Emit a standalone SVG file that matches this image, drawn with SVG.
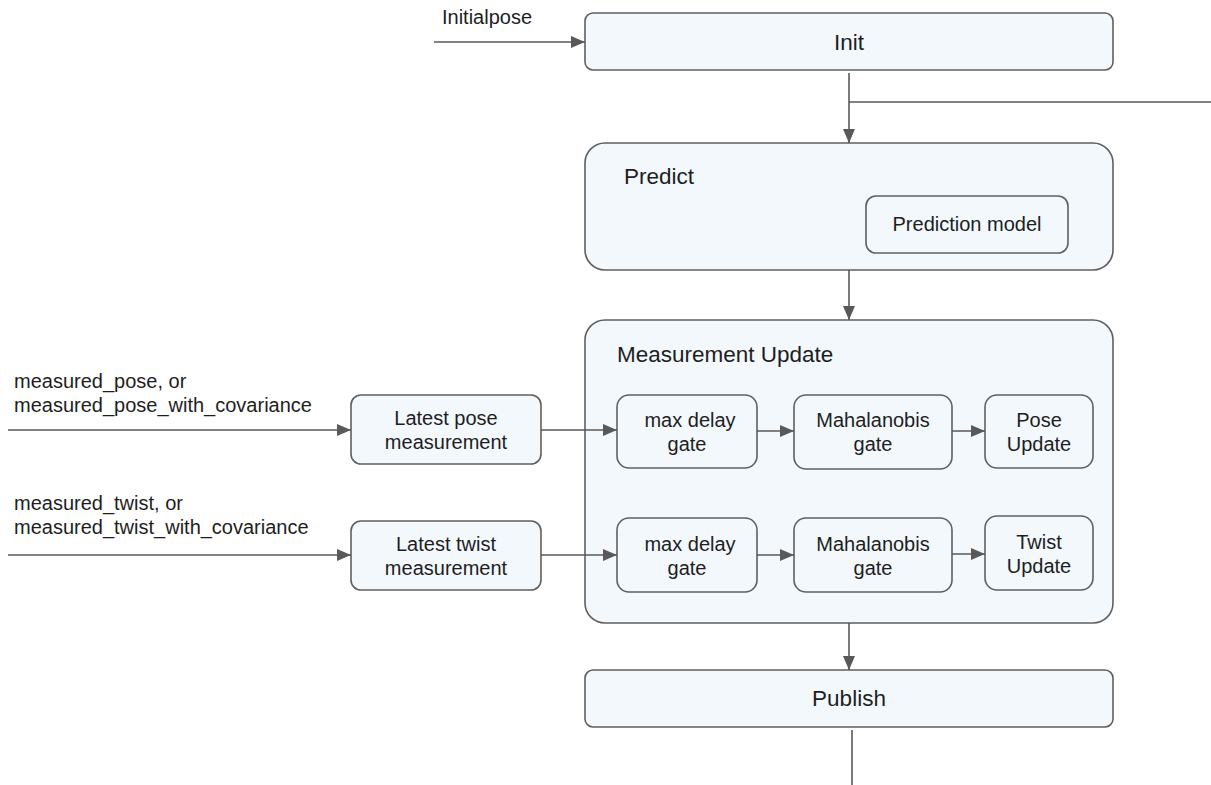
<svg xmlns="http://www.w3.org/2000/svg" width="1211" height="785" viewBox="0 0 1211 785">
<defs>
<marker id="ah" viewBox="0 0 14 12" refX="14" refY="6" markerWidth="14" markerHeight="12" markerUnits="userSpaceOnUse" orient="auto">
<path d="M0,0 L14,6 L0,12 Z" fill="#595959"/>
</marker>
<style>
.box{fill:#f3f8fd;stroke:#5f5f5f;stroke-width:1.6}
.t{font-family:"Liberation Sans",Arial,sans-serif;fill:#1e1e1e}
.c{text-anchor:middle}
.f18{font-size:20px}
.f20{font-size:22.5px}
.ln{stroke:#595959;stroke-width:1.6;fill:none}
.arr{stroke:#595959;stroke-width:1.6;fill:none;marker-end:url(#ah)}
</style>
</defs>
<rect width="1211" height="785" fill="#ffffff"/>
<g id="init">
<rect class="box" x="585" y="13" width="528" height="57" rx="8"/>
<text class="t c f20" x="849" y="50">Init</text>
</g>
<g id="predict">
<rect class="box" x="585" y="143" width="528" height="127" rx="20"/>
<text class="t f20" x="624" y="184">Predict</text>
</g>
<g id="prediction-model">
<rect class="box" x="866" y="196" width="202" height="57" rx="10"/>
<text class="t c f18" x="967" y="231">Prediction model</text>
</g>
<g id="measurement-update">
<rect class="box" x="585" y="320" width="528" height="303" rx="20"/>
<text class="t f20" x="617" y="362">Measurement Update</text>
</g>
<g id="latest-pose">
<rect class="box" x="351" y="395" width="190" height="69" rx="10"/>
<text class="t c f18" x="446" y="425">Latest pose</text>
<text class="t c f18" x="446" y="449">measurement</text>
</g>
<g id="latest-twist">
<rect class="box" x="351" y="521" width="190" height="69" rx="10"/>
<text class="t c f18" x="446" y="551">Latest twist</text>
<text class="t c f18" x="446" y="575">measurement</text>
</g>
<g id="max-delay-pose">
<rect class="box" x="617" y="395" width="140" height="73" rx="12"/>
<text class="t c f18" x="690" y="427">max delay</text>
<text class="t c f18" x="687" y="451">gate</text>
</g>
<g id="mahalanobis-pose">
<rect class="box" x="794" y="395" width="158" height="74" rx="12"/>
<text class="t c f18" x="873" y="427">Mahalanobis</text>
<text class="t c f18" x="873" y="451">gate</text>
</g>
<g id="pose-update">
<rect class="box" x="985" y="395" width="108" height="73" rx="12"/>
<text class="t c f18" x="1039" y="427">Pose</text>
<text class="t c f18" x="1039" y="451">Update</text>
</g>
<g id="max-delay-twist">
<rect class="box" x="617" y="518" width="140" height="74" rx="12"/>
<text class="t c f18" x="690" y="551">max delay</text>
<text class="t c f18" x="687" y="575">gate</text>
</g>
<g id="mahalanobis-twist">
<rect class="box" x="794" y="518" width="158" height="74" rx="12"/>
<text class="t c f18" x="873" y="551">Mahalanobis</text>
<text class="t c f18" x="873" y="575">gate</text>
</g>
<g id="twist-update">
<rect class="box" x="985" y="516" width="108" height="74" rx="12"/>
<text class="t c f18" x="1039" y="549">Twist</text>
<text class="t c f18" x="1039" y="573">Update</text>
</g>
<g id="publish">
<rect class="box" x="585" y="670" width="528" height="57" rx="8"/>
<text class="t c f20" x="849" y="706">Publish</text>
</g>
<g id="connectors">
<line class="arr" x1="434" y1="42" x2="585" y2="42"/>
<line class="arr" x1="849" y1="73" x2="849" y2="143"/>
<line class="ln" x1="849" y1="102" x2="1211" y2="102"/>
<line class="arr" x1="849" y1="270" x2="849" y2="320"/>
<line class="arr" x1="8" y1="430" x2="351" y2="430"/>
<line class="arr" x1="8" y1="555" x2="351" y2="555"/>
<line class="arr" x1="541" y1="430" x2="617" y2="430"/>
<line class="arr" x1="541" y1="555" x2="617" y2="555"/>
<line class="arr" x1="757" y1="431" x2="794" y2="431"/>
<line class="arr" x1="952" y1="431" x2="985" y2="431"/>
<line class="arr" x1="757" y1="555" x2="794" y2="555"/>
<line class="arr" x1="952" y1="554" x2="985" y2="554"/>
<line class="arr" x1="849" y1="623" x2="849" y2="670"/>
<line class="ln" x1="852" y1="730" x2="852" y2="785"/>
</g>
<g id="labels">
<text class="t f18" x="442" y="24">Initialpose</text>
<text class="t f18" x="14" y="388">measured_pose, or</text>
<text class="t f18" x="14" y="412">measured_pose_with_covariance</text>
<text class="t f18" x="14" y="510">measured_twist, or</text>
<text class="t f18" x="14" y="534">measured_twist_with_covariance</text>
</g>
</svg>
